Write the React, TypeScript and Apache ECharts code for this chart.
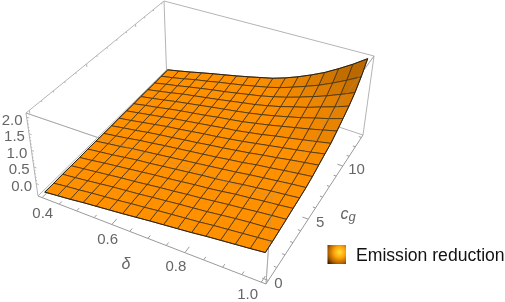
import React, { useEffect, useRef } from "react";
import * as echarts from "echarts";

const seriesName = "Emission reduction";
const deltaValues = [0.4, 0.4375, 0.475, 0.5125, 0.55, 0.5875, 0.625, 0.6625, 0.7, 0.7375, 0.775, 0.8125, 0.85, 0.8875, 0.925, 0.9625, 1.0];
const cgValues = [0, 0.8125, 1.625, 2.4375, 3.25, 4.0625, 4.875, 5.6875, 6.5, 7.3125, 8.125, 8.9375, 9.75, 10.5625, 11.375, 12.1875, 13];
// one row per delta value, one column per c_g value
const reduction = [
  [-0.30,-0.30,-0.29,-0.29,-0.29,-0.28,-0.28,-0.28,-0.28,-0.27,-0.27,-0.27,-0.26,-0.26,-0.26,-0.25,-0.25],
  [-0.26,-0.25,-0.25,-0.24,-0.24,-0.23,-0.22,-0.22,-0.21,-0.21,-0.20,-0.19,-0.19,-0.18,-0.17,-0.17,-0.16],
  [-0.22,-0.21,-0.20,-0.19,-0.18,-0.18,-0.17,-0.16,-0.15,-0.14,-0.13,-0.12,-0.11,-0.10,-0.09,-0.08,-0.065],
  [-0.17,-0.16,-0.15,-0.14,-0.13,-0.12,-0.10,-0.09,-0.08,-0.07,-0.06,-0.04,-0.03,-0.01,0,0.02,0.035],
  [-0.13,-0.12,-0.10,-0.09,-0.08,-0.06,-0.05,-0.04,-0.02,0,0.01,0.03,0.04,0.06,0.08,0.10,0.13],
  [-0.09,-0.08,-0.06,-0.05,-0.03,-0.02,0,0.02,0.03,0.05,0.07,0.09,0.11,0.13,0.16,0.19,0.22],
  [-0.05,-0.03,-0.02,0,0.02,0.03,0.05,0.07,0.09,0.11,0.13,0.15,0.18,0.20,0.23,0.27,0.31],
  [-0.005,0.01,0.03,0.05,0.06,0.08,0.10,0.12,0.14,0.17,0.19,0.22,0.245,0.275,0.31,0.35,0.405],
  [0.04,0.06,0.075,0.09,0.11,0.13,0.15,0.17,0.20,0.22,0.25,0.28,0.31,0.35,0.39,0.44,0.505],
  [0.08,0.10,0.12,0.14,0.16,0.18,0.20,0.22,0.25,0.28,0.30,0.34,0.38,0.42,0.47,0.53,0.605],
  [0.12,0.14,0.16,0.18,0.20,0.22,0.25,0.28,0.31,0.34,0.37,0.42,0.46,0.51,0.57,0.64,0.74],
  [0.16,0.18,0.20,0.23,0.25,0.27,0.30,0.33,0.37,0.41,0.44,0.50,0.55,0.61,0.68,0.78,0.90],
  [0.21,0.23,0.25,0.28,0.31,0.33,0.36,0.40,0.44,0.48,0.53,0.59,0.65,0.73,0.81,0.93,1.08],
  [0.25,0.27,0.30,0.32,0.35,0.38,0.41,0.45,0.50,0.55,0.60,0.68,0.75,0.84,0.95,1.09,1.28],
  [0.29,0.31,0.34,0.37,0.40,0.43,0.46,0.51,0.57,0.62,0.68,0.77,0.87,0.98,1.10,1.28,1.52],
  [0.33,0.35,0.37,0.41,0.44,0.47,0.51,0.56,0.63,0.69,0.76,0.87,0.98,1.11,1.27,1.49,1.78],
  [0.375,0.39,0.42,0.45,0.485,0.515,0.55,0.61,0.69,0.77,0.84,0.97,1.11,1.26,1.45,1.72,2.075],
];
const deltaTicks = ["0.4", "0.6", "0.8", "1.0"];
const cgTicks = ["0", "5", "10"];
const zTicks = ["0.0", "0.5", "1.0", "1.5", "2.0"];

const DELTA_RANGE = [0.388, 1.012];
const CG_RANGE = [-0.27, 13.27];
const Z_RANGE = [-0.375, 2.125];

type P = [number, number];
const FLOOR: P[] = [[38, 196], [266, 284], [363, 135], [166.5, 70]];
const TOP: P[] = [[26, 113], [272, 197], [374, 56], [164, 1]];

function quad(q: P[], u: number, v: number): P {
  const [p0, p1, p2, p3] = q;
  const dx1 = p1[0] - p2[0], dx2 = p3[0] - p2[0], sx = p0[0] - p1[0] + p2[0] - p3[0];
  const dy1 = p1[1] - p2[1], dy2 = p3[1] - p2[1], sy = p0[1] - p1[1] + p2[1] - p3[1];
  const den = dx1 * dy2 - dx2 * dy1;
  const g = (sx * dy2 - dx2 * sy) / den, h = (dx1 * sy - sx * dy1) / den;
  const d = 1 + g * u + h * v;
  return [
    (p0[0] + (p1[0] * (1 + g) - p0[0]) * u + (p3[0] * (1 + h) - p0[0]) * v) / d,
    (p0[1] + (p1[1] * (1 + g) - p0[1]) * u + (p3[1] * (1 + h) - p0[1]) * v) / d,
  ];
}
const norm = (x: number, r: number[]) => (x - r[0]) / (r[1] - r[0]);
function box(u: number, v: number, w: number): P {
  const a = quad(FLOOR, u, v), b = quad(TOP, u, v);
  return [a[0] + (b[0] - a[0]) * w, a[1] + (b[1] - a[1]) * w];
}
const surf = (i: number, j: number) =>
  box(norm(deltaValues[i], DELTA_RANGE), norm(cgValues[j], CG_RANGE), norm(reduction[i][j], Z_RANGE));

const line = (api: any, a: P, b: P, stroke: string, lineWidth = 1) => {
  const s = api.coord(a), e = api.coord(b);
  return { type: "line", shape: { x1: s[0], y1: s[1], x2: e[0], y2: e[1] }, style: { stroke, lineWidth } };
};
const label = (api: any, at: P, text: string) => {
  const c = api.coord(at);
  return {
    type: "text",
    style: { text, x: c[0], y: c[1], fill: "#666", fontSize: 15, fontFamily: "Liberation Sans", align: "center", verticalAlign: "middle" },
  };
};

const C = { A: [0, 0, 0], B: [1, 0, 0], D: [1, 1, 0], c: [0, 1, 0], E: [0, 0, 1], F: [1, 0, 1], H: [1, 1, 1], G: [0, 1, 1] } as Record<string, number[]>;
const corner = (k: string) => box(C[k][0], C[k][1], C[k][2]);

function frameBack(_: any, api: any) {
  const grey = "#b4b4b4";
  const edges = [["c", "D"], ["c", "G"], ["G", "E"], ["G", "H"], ["E", "A"], ["D", "H"], ["E", "F"], ["F", "H"], ["F", "B"], ["A", "c"]];
  const children: any[] = edges.map(([a, b]) => line(api, corner(a), corner(b), grey));
  children.push(line(api, corner("A"), corner("B"), "#9a9a9a"));
  children.push(line(api, corner("B"), corner("D"), "#9a9a9a"));
  // ticks
  for (let d = 0.4; d < 1.001; d += 0.05) {
    const u = norm(d, DELTA_RANGE);
    const major = Math.abs((d * 10) % 2) < 0.01 || Math.abs((d * 10) % 2 - 2) < 0.01;
    children.push(line(api, box(u, 0, 0), box(u, major ? 0.035 : 0.018, 0), "#9a9a9a"));
  }
  for (let c = 0; c <= 13; c += 1) {
    const v = norm(c, CG_RANGE);
    children.push(line(api, box(1, v, 0), box(c % 5 === 0 ? 0.975 : 0.988, v, 0), "#9a9a9a"));
    children.push(line(api, box(0, v, 1), box(0, v, c % 5 === 0 ? 0.96 : 0.98), "#b4b4b4"));
  }
  for (let z = 0; z <= 20; z += 1) {
    const w = norm(z / 10, Z_RANGE);
    children.push(line(api, box(0, 0, w), box(z % 5 === 0 ? 0.012 : 0.006, 0, w), "#b4b4b4"));
  }
  return { type: "group", children };
}

function cell(params: any, api: any) {
  const i = api.value(0), j = api.value(1);
  const pts = [surf(i, j), surf(i + 1, j), surf(i + 1, j + 1), surf(i, j + 1)].map((p) => api.coord(p));
  const rise = (reduction[i][j + 1] - reduction[i][j] + reduction[i + 1][j + 1] - reduction[i + 1][j]) / 2;
  const k = Math.max(0, Math.min(1, (rise - 0.05) / 0.24));
  const lift = 1 - 0.27 * k;
  const fill = `rgb(${Math.round(255 * lift)},${Math.round(144 * lift)},0)`;
  return { type: "polygon", shape: { points: pts }, style: { fill, stroke: "rgba(62,46,22,0.9)", lineWidth: 0.85 } };
}

function frameFront(_: any, api: any) {
  const over = "rgba(150,150,150,0.4)";
  const children: any[] = [
    line(api, corner("E"), corner("F"), over),
    line(api, corner("F"), corner("H"), over),
    line(api, corner("F"), corner("B"), over),
  ];
  const n = deltaValues.length - 1;
  const edge: P[] = [];
  for (let i = 0; i <= n; i++) edge.push(surf(i, 0));
  for (let j = 1; j <= n; j++) edge.push(surf(n, j));
  for (let i = n - 1; i >= 0; i--) edge.push(surf(i, n));
  for (let j = n - 1; j >= 0; j--) edge.push(surf(0, j));
  children.push({
    type: "polygon",
    shape: { points: edge.map((p) => api.coord(p)) },
    style: { fill: "none", stroke: "rgba(40,30,15,0.9)", lineWidth: 1 },
  });
  // tick labels
  deltaTicks.forEach((t) => {
    const u = norm(Number(t), DELTA_RANGE);
    const p = box(u, 0, 0);
    children.push(label(api, [p[0] + 1 - 15 * u, p[1] + 15 - 4 * u], t));
  });
  cgTicks.forEach((t) => {
    const v = norm(Number(t), CG_RANGE);
    const p = box(1, v, 0);
    children.push(label(api, [p[0] + 10 + 5 * v, p[1] + 2], t));
  });
  zTicks.forEach((t) => {
    const p = box(0, 0, norm(Number(t), Z_RANGE));
    children.push(label(api, [p[0] - 14.5, p[1] + 2], t));
  });
  const dp = api.coord([126, 263]);
  children.push({
    type: "text",
    style: { text: "δ", x: dp[0], y: dp[1], fill: "#666", fontSize: 16, fontStyle: "italic", fontFamily: "Liberation Sans", align: "center", verticalAlign: "middle" },
  });
  const cp = api.coord([348, 213]);
  children.push({
    type: "text",
    style: {
      text: "{c|c}{g|g}",
      x: cp[0],
      y: cp[1],
      align: "center",
      verticalAlign: "middle",
      rich: {
        c: { fill: "#666", fontSize: 16, fontStyle: "italic", fontFamily: "Liberation Sans", verticalAlign: "middle" },
        g: { fill: "#666", fontSize: 13, fontStyle: "italic", fontFamily: "Liberation Sans", padding: [7, 0, 0, 0] },
      },
    },
  });
  return { type: "group", children };
}

const cellData: number[][] = [];
for (let i = deltaValues.length - 2; i >= 0; i--)
  for (let j = cgValues.length - 2; j >= 0; j--) cellData.push([i, j]);

export default function App() {
  const ref = useRef<HTMLDivElement>(null);
  useEffect(() => {
    const chart = echarts.init(ref.current!, null, { renderer: "svg" });
    const common = { type: "custom", coordinateSystem: "cartesian2d", clip: false, silent: true };
    chart.setOption({
      animation: false,
      grid: { left: 0, top: 0, right: 0, bottom: 0 },
      xAxis: { type: "value", min: 0, max: 505, show: false },
      yAxis: { type: "value", min: 0, max: 302, inverse: true, show: false },
      legend: {
        left: 327.5,
        top: 245,
        padding: 0,
        itemWidth: 18.5,
        itemHeight: 19,
        selectedMode: false,
        textStyle: { color: "#111", fontSize: 17.6, fontFamily: "Liberation Sans", padding: [0, 0, 0, 5] },
        data: [
          {
            name: seriesName,
            icon: "rect",
            itemStyle: {
              color: {
                type: "radial",
                x: 0.65,
                y: 0.38,
                r: 0.85,
                colorStops: [
                  { offset: 0, color: "#ffe23a" },
                  { offset: 0.35, color: "#ffa50a" },
                  { offset: 0.7, color: "#b06000" },
                  { offset: 1, color: "#2e1600" },
                ],
              },
            },
          },
        ],
      },
      series: [
        { ...common, name: "frame", data: [[0, 0]], renderItem: frameBack },
        { ...common, name: seriesName, data: cellData, renderItem: cell, itemStyle: { color: "#ff9000" } },
        { ...common, name: "labels", data: [[0, 0]], renderItem: frameFront },
      ],
    });
    return () => chart.dispose();
  }, []);
  return <div ref={ref} style={{ position: "fixed", left: 0, top: 0, width: 505, height: 302 }} />;
}
